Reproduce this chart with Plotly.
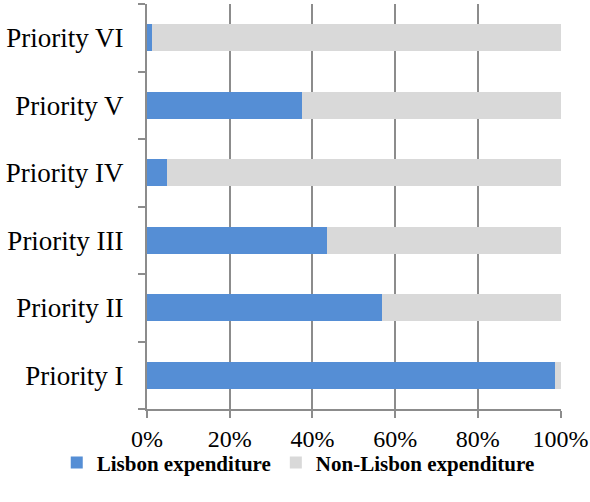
import plotly.graph_objects as go

categories = ["Priority I", "Priority II", "Priority III", "Priority IV", "Priority V", "Priority VI"]
lisbon = [98.7, 56.9, 43.6, 4.9, 37.4, 1.3]
non_lisbon = [1.3, 43.1, 56.4, 95.1, 62.6, 98.7]
x_ticks = [0, 20, 40, 60, 80, 100]
x_labels = ["0%", "20%", "40%", "60%", "80%", "100%"]

fig = go.Figure()
fig.add_trace(go.Bar(y=categories, x=lisbon, orientation="h", name="Lisbon expenditure",
                     marker=dict(color="#558ED5", line=dict(width=0)), width=0.4))
fig.add_trace(go.Bar(y=categories, x=non_lisbon, orientation="h", name="Non-Lisbon expenditure",
                     marker=dict(color="#D9D9D9", line=dict(width=0)), width=0.4))

font = "Liberation Serif, Times New Roman, serif"
fig.update_layout(
    barmode="stack",
    width=590, height=502,
    margin=dict(l=147, r=29, t=4, b=93, autoexpand=False),
    plot_bgcolor="white", paper_bgcolor="white",
    font=dict(family=font, size=27, color="black"),
    showlegend=True,
    legend=dict(orientation="h", x=-0.218, xanchor="left", y=-0.133, yanchor="middle",
                bgcolor="rgba(0,0,0,0)",
                font=dict(family=font, size=21, color="black", weight="bold"),
                itemwidth=30, traceorder="normal"),
    xaxis=dict(range=[0, 100.1], tickvals=x_ticks, ticktext=x_labels,
               tickfont=dict(size=24),
               showgrid=True, gridcolor="#8C8C8C", gridwidth=2,
               showline=True, linecolor="#8C8C8C", linewidth=2,
               ticks="outside", ticklen=7, tickwidth=2, tickcolor="#8C8C8C",
               zeroline=False, fixedrange=True, automargin=False),
    yaxis=dict(type="category", showgrid=False,
               showline=True, linecolor="#8C8C8C", linewidth=2,
               ticks="outside", tickson="boundaries", ticklen=7, tickwidth=2, tickcolor="#8C8C8C",
               ticklabelstandoff=16, fixedrange=True, automargin=False),
)

fig.write_html("out.html", config={"displayModeBar": False},
               post_script="document.body.style.margin='0';document.body.style.overflow='hidden';")
